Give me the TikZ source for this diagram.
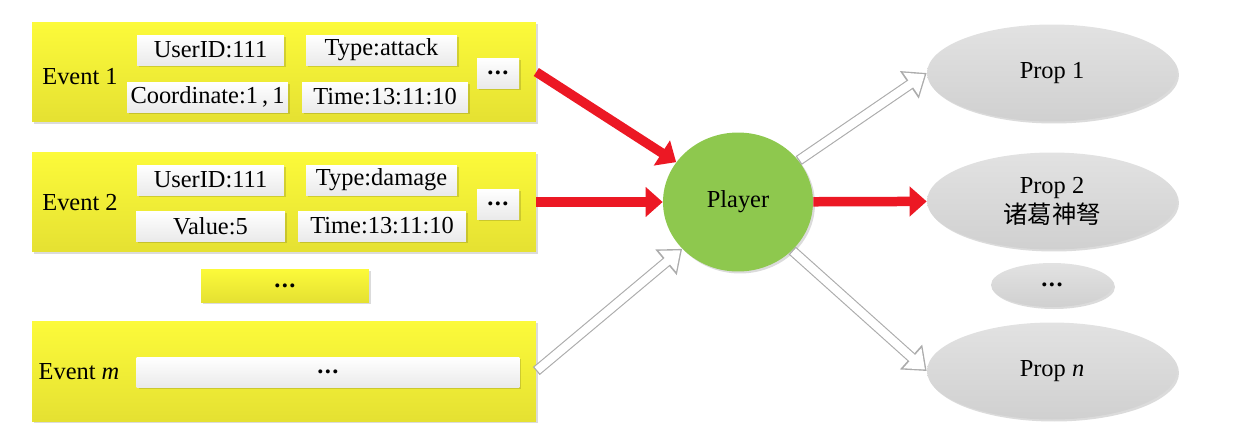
\documentclass[tikz,border=0pt]{standalone}
\usepackage{fontspec}
\setmainfont{Liberation Serif}
\newfontfamily\cjk{Noto Sans CJK SC}
\usetikzlibrary{arrows.meta,shapes.geometric,shadows}

\definecolor{evtop}{RGB}{252,250,58}
\definecolor{evbot}{RGB}{229,225,50}
\definecolor{fldbot}{RGB}{234,234,234}
\definecolor{playergreen}{RGB}{142,200,78}
\definecolor{proptop}{RGB}{226,226,226}
\definecolor{propbot}{RGB}{208,208,208}
\definecolor{arrowred}{RGB}{236,24,36}

\newcommand{\middots}{{\bfseries.\kern0.06em.\kern0.06em.}}

\tikzset{
  softshadow/.style={drop shadow={shadow xshift=0.04cm, shadow yshift=-0.04cm, fill=black, opacity=0.14}},
  evbox/.style={rectangle, top color=evtop, bottom color=evbot, softshadow, minimum width=#1, minimum height=2cm, inner sep=0pt},
  fldbox/.style={rectangle, top color=white, bottom color=fldbot, softshadow, minimum width=#1, minimum height=0.6cm, inner sep=0pt},
  propnode/.style={ellipse, top color=proptop, bottom color=propbot, softshadow, minimum width=5cm, minimum height=1.94cm, inner sep=0pt, align=center},
  redarrow/.style={draw=arrowred, line width=0.19cm, -{Triangle[length=0.34cm, width=0.58cm]}},
  hollowarrow/.style={draw=gray!65, line width=0.21cm, -{Triangle[length=0.42cm, width=0.64cm]},
    postaction={draw=white, line width=0.165cm, shorten >=0.045cm, shorten <=0.025cm, -{Triangle[length=0.34cm, width=0.52cm]}}}
}

\begin{document}
\begin{tikzpicture}[x=0.02cm, y=-0.02cm, every node/.style={font=\fontsize{13.9}{16}\selectfont}]
\useasboundingbox (0,0) rectangle (1234,444);
% event records
\node[evbox=10.08cm] (ev1) at (284,72) {};
\node[evbox=10.08cm] (ev2) at (284,202) {};
\node[evbox=3.36cm, minimum height=0.66cm] (evdots) at (285,285.5) {\middots};
\node[evbox=10.08cm] (evm) at (284,371) {};
\node (lab1) at (80,77) {Event 1};
\node (lab2) at (80,203) {Event 2};
\node (labm) at (79,372) {Event \textit{m}};
% fields of event 1
\node[fldbox=2.94cm] (user1) at (210.5,50) {UserID:111};
\node[fldbox=3.02cm] (type1) at (381.5,50) {Type:attack};
\node[fldbox=3.22cm] (coord1) at (207.5,97) {Coordinate:1\,,\,1};
\node[fldbox=3.32cm] (time1) at (385,97) {Time:13:11:10};
\node[fldbox=0.84cm] (more1) at (498,73) {\middots};
% fields of event 2
\node[fldbox=2.94cm] (user2) at (210.5,180) {UserID:111};
\node[fldbox=3.02cm] (type2) at (381.5,180) {Type:damage};
\node[fldbox=2.98cm] (value2) at (210.5,226) {Value:5};
\node[fldbox=3.36cm] (time2) at (382,226) {Time:13:11:10};
\node[fldbox=0.84cm] (more2) at (498,204) {\middots};
% fields of event m
\node[fldbox=7.66cm] (fldm) at (328,372) {\middots};
% player and props
\node[ellipse, fill=playergreen, softshadow, minimum width=3cm, minimum height=2.78cm, inner sep=0pt] (player) at (738,202) {Player};
\node[propnode] (prop1) at (1052,73) {Prop 1};
\node[propnode] (prop2) at (1052,201) {Prop 2\\[1pt]{\cjk 诸葛神弩}};
\node[propnode, minimum width=2.44cm, minimum height=0.88cm] (propdots) at (1052,285) {\middots};
\node[propnode] (propn) at (1052,371) {Prop \textit{n}};
% connectors
\draw[redarrow] (ev1.east) -- (player);
\draw[redarrow] (ev2.east) -- (player);
\draw[redarrow] (player) -- (prop2);
\draw[hollowarrow] (evm.east) -- (player);
\draw[hollowarrow] (player) -- (prop1.west);
\draw[hollowarrow] (player) -- (propn.west);
\end{tikzpicture}
\end{document}
